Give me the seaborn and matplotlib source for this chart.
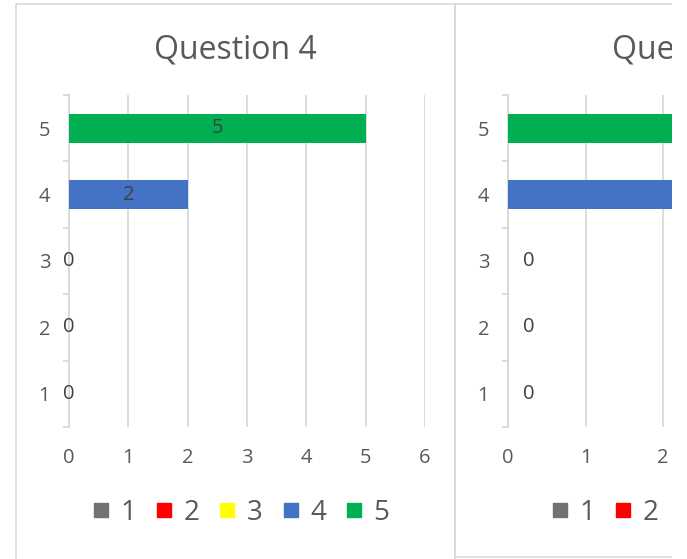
import matplotlib
matplotlib.use("Agg")
import matplotlib.pyplot as plt
from matplotlib.lines import Line2D
from matplotlib.patches import Rectangle
from matplotlib.transforms import Bbox
import seaborn as sns
import pandas as pd

# Ratings listed top to bottom, counts per rating for each question
ratings = ["5", "4", "3", "2", "1"]
q4_counts = [5, 2, 0, 0, 0]
q5_counts = [4, 3, 0, 0, 0]
legend_labels = ["1", "2", "3", "4", "5"]
rating_colors = {"1": "#767171", "2": "#FF0000", "3": "#FFFF00",
                 "4": "#4472C4", "5": "#00B050"}

TEXT = "#595959"
GRID = "#D9D9D9"
FS = 14.5

sns.set_theme(style="white")
plt.rcParams["font.family"] = ["Open Sans", "DejaVu Sans"]

W, H = 687, 559
PAGE_RIGHT = 672  # right edge of the visible page area
fig = plt.figure(figsize=(W / 100, H / 100), dpi=100)
fig.patch.set_facecolor("white")
page_clip = Bbox.from_extents(0, 0, PAGE_RIGHT, H)


def fx(px):
    return px / W


def fy(py):
    return 1 - py / H


# chart frames
fig.add_artist(Rectangle((fx(16), fy(575)), fx(455 - 16), (575 - 4) / H,
                         transform=fig.transFigure, fill=False,
                         edgecolor=GRID, lw=1.2, zorder=0))
fig.add_artist(Rectangle((fx(455), fy(557)), fx(800 - 455), (557 - 4) / H,
                         transform=fig.transFigure, fill=False,
                         edgecolor=GRID, lw=1.2, zorder=0))


def draw_panel(left_px, unit_px, xmax, counts, label_mode):
    # part of the value axis that fits on the page
    shown = min(float(xmax), (PAGE_RIGHT - left_px) / unit_px)
    ax = fig.add_axes([fx(left_px), fy(427), fx(shown * unit_px), (427 - 95) / H])
    df = pd.DataFrame({"rating": ratings, "count": counts})
    sns.barplot(data=df, y="rating", x="count", hue="rating", order=ratings,
                hue_order=legend_labels, palette=rating_colors, width=0.44,
                dodge=False, legend=False, saturation=1, linewidth=0,
                ax=ax, zorder=3)
    ax.set_xlim(0, shown)
    ax.set_ylim(len(ratings) - 0.5, -0.5)
    ax.set_xticks([v for v in range(0, xmax + 1) if v <= shown + 1e-6])
    ax.xaxis.grid(True, color=GRID, lw=1.3, zorder=0)
    ax.set_axisbelow(True)
    for s in ["top", "right", "bottom"]:
        ax.spines[s].set_visible(False)
    ax.spines["left"].set_color(GRID)
    ax.spines["left"].set_linewidth(1.3)
    ax.set_xlabel("")
    ax.set_ylabel("")
    ax.set_yticks(range(len(ratings)))
    ax.set_yticks([i - 0.5 for i in range(len(ratings) + 1)], minor=True)
    ax.tick_params(axis="y", which="major", length=0, pad=13.5,
                   labelsize=FS, labelcolor=TEXT)
    ax.tick_params(axis="y", which="minor", length=4.5, width=1.3,
                   color=GRID, left=True)
    ax.tick_params(axis="x", length=0, pad=15, labelsize=FS,
                   labelcolor=TEXT)
    for cont in ax.containers:
        if label_mode == "center":
            labels = ax.bar_label(cont, label_type="center", fmt="%d",
                                  fontsize=FS, color="#404040")
        else:
            labels = ax.bar_label(cont, label_type="edge", fmt="%d",
                                  padding=10.5, fontsize=FS, color="#404040")
        for t in labels:
            t.set_clip_box(page_clip)
            t.set_clip_on(True)
    handles = [Line2D([], [], marker="s", ls="", markersize=10,
                      markerfacecolor=rating_colors[k],
                      markeredgecolor=rating_colors[k]) for k in legend_labels]
    return ax, handles


ax1, handles = draw_panel(69, 59.3, 6, q4_counts, "center")
ax2, _ = draw_panel(508, 77.5, 5, q5_counts, "edge")

fig.text(fx(235.5), fy(50), "Question 4", ha="center", va="center",
         fontsize=23, color=TEXT)
t2 = fig.text(fx(612), fy(50), "Question 5", ha="left", va="center",
              fontsize=23, color=TEXT)
t2.set_clip_box(page_clip)
t2.set_clip_on(True)

for cx in (240, 699):
    leg = fig.legend(handles, legend_labels, loc="center",
                     bbox_to_anchor=(fx(cx), fy(513)), ncol=5, frameon=False,
                     fontsize=20, handlelength=0.7, handletextpad=0.35,
                     columnspacing=0.66, labelcolor=TEXT)
    for t in leg.get_texts():
        t.set_clip_box(page_clip)
        t.set_clip_on(True)

# page edge beyond the second chart
fig.add_artist(Rectangle((fx(PAGE_RIGHT), 0), 1, 1, transform=fig.transFigure,
                         facecolor="white", edgecolor="none", zorder=10))

fig.savefig("out.png", dpi=100, facecolor="white")
